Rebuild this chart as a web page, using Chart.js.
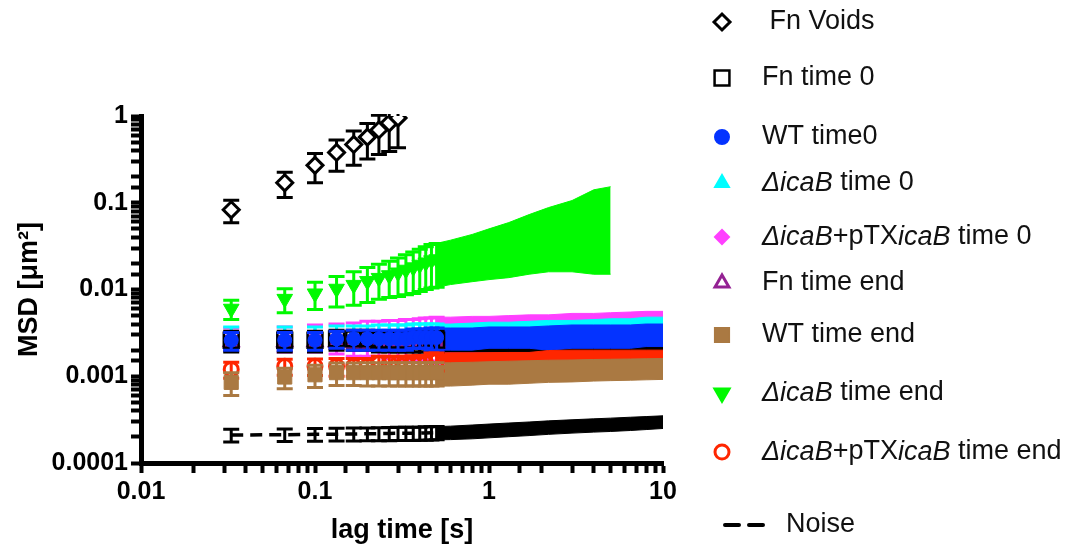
<!DOCTYPE html>
<html>
<head>
<meta charset="utf-8">
<title>MSD vs lag time</title>
<script src="https://cdn.jsdelivr.net/npm/chart.js@4.4.1/dist/chart.umd.min.js"></script>
<style>
    body { margin: 0; background: #fff; }
    canvas { display: block; }
</style>
</head>
<body>
<canvas id="msdChart" width="1077" height="550"></canvas>
<script>
var lagTimes = [0.033, 0.067, 0.1, 0.133, 0.167, 0.2, 0.233, 0.267, 0.3, 0.333, 0.367, 0.4, 0.433, 0.467, 0.5,
    0.6, 0.8, 1, 1.3, 1.7, 2.2, 3, 4, 5, 6.5, 8, 10];

// MSD [um^2] means and SDs per condition
var fnVoidsMsd = [0.083, 0.17, 0.27, 0.38, 0.47, 0.57, 0.69, 0.83, 0.95];
var fnVoidsSd = [0.024, 0.055, 0.1, 0.15, 0.2, 0.25, 0.33, 0.44, 0.52];

var fnT0Msd = [0.0026, 0.0026, 0.0026, 0.0027, 0.0027, 0.0027, 0.0026, 0.0026, 0.0026, 0.0026, 0.0026, 0.0026, 0.0026, 0.0026, 0.0026,
    0.0026, 0.0026, 0.0027, 0.0027, 0.0027, 0.0027, 0.0027, 0.0027, 0.0027, 0.0027, 0.0027, 0.0027];
var fnT0Sd = [0.0007, 0.0007, 0.0007, 0.0007, 0.0007, 0.0007, 0.0007, 0.0007, 0.0007, 0.0007, 0.0007, 0.0007, 0.0007, 0.0007, 0.0007,
    0.0007, 0.0007, 0.0008, 0.0008, 0.0008, 0.0008, 0.0008, 0.0008, 0.0008, 0.0008, 0.0008, 0.0008];

var wtT0Msd = [0.0026, 0.0026, 0.0026, 0.0027, 0.0027, 0.0027, 0.0027, 0.0027, 0.0027, 0.0027, 0.0028, 0.0028, 0.0028, 0.0028, 0.0028,
    0.0028, 0.0028, 0.0029, 0.0029, 0.0029, 0.0029, 0.003, 0.003, 0.003, 0.003, 0.0031, 0.0031];
var wtT0Sd = [0.0006, 0.0006, 0.0006, 0.0006, 0.0007, 0.0007, 0.0007, 0.0007, 0.0007, 0.0007, 0.0007, 0.0007, 0.0007, 0.0008, 0.0008,
    0.0008, 0.0008, 0.0008, 0.0008, 0.0008, 0.0009, 0.0009, 0.0009, 0.0009, 0.0009, 0.0009, 0.0009];

var icaBT0Msd = [0.0029, 0.0029, 0.0029, 0.003, 0.003, 0.003, 0.003, 0.003, 0.003, 0.003, 0.0031, 0.0031, 0.0031, 0.0031, 0.0031,
    0.0031, 0.0031, 0.0032, 0.0032, 0.0032, 0.0033, 0.0033, 0.0033, 0.0034, 0.0034, 0.0035, 0.0035];
var icaBT0Sd = [0.0008, 0.0008, 0.0008, 0.0008, 0.0008, 0.0008, 0.0009, 0.0009, 0.0009, 0.0009, 0.0009, 0.0009, 0.0009, 0.0009, 0.0009,
    0.0009, 0.001, 0.001, 0.001, 0.0011, 0.0011, 0.0011, 0.0012, 0.0012, 0.0012, 0.0013, 0.0013];

var compT0Msd = [0.0028, 0.0028, 0.0029, 0.0029, 0.0029, 0.003, 0.003, 0.003, 0.003, 0.003, 0.003, 0.0031, 0.0031, 0.0031, 0.0031,
    0.0031, 0.0032, 0.0032, 0.0032, 0.0033, 0.0033, 0.0034, 0.0034, 0.0035, 0.0035, 0.0036, 0.0036];
var compT0Sd = [0.0008, 0.0009, 0.001, 0.0011, 0.0012, 0.0013, 0.0013, 0.0014, 0.0014, 0.0015, 0.0015, 0.0015, 0.0016, 0.0016, 0.0017,
    0.0017, 0.0017, 0.0017, 0.0018, 0.0018, 0.0018, 0.0019, 0.0019, 0.0019, 0.002, 0.002, 0.002];

var fnEndMsd = [0.0025, 0.0025, 0.0025, 0.0025, 0.0025, 0.0025, 0.0025, 0.0025, 0.0025, 0.0025, 0.0025, 0.0025, 0.0025, 0.0025, 0.0025,
    0.0025, 0.0025, 0.0026, 0.0026, 0.0026, 0.0026, 0.0026, 0.0026, 0.0027, 0.0027, 0.0027, 0.0027];
var fnEndSd = [0.0004, 0.0004, 0.0004, 0.0004, 0.0004, 0.0004, 0.0004, 0.0004, 0.0004, 0.0004, 0.0004, 0.0004, 0.0004, 0.0004, 0.0004,
    0.0004, 0.0004, 0.0004, 0.0004, 0.0004, 0.0004, 0.0004, 0.0004, 0.0004, 0.0004, 0.0004, 0.0004];

var wtEndMsd = [0.00085, 0.00098, 0.00104, 0.0011, 0.0011, 0.0011, 0.0011, 0.0011, 0.0011, 0.0011, 0.0011, 0.0011, 0.0011, 0.0011, 0.0011,
    0.0011, 0.00112, 0.00114, 0.00115, 0.00117, 0.00119, 0.0012, 0.00122, 0.00123, 0.00124, 0.00125, 0.00126];
var wtEndSd = [0.00025, 0.00026, 0.0003, 0.00032, 0.00032, 0.00033, 0.00033, 0.00033, 0.00033, 0.00033, 0.00033, 0.00033, 0.00033, 0.00033, 0.00033,
    0.00033, 0.00033, 0.00033, 0.00034, 0.00034, 0.00034, 0.00034, 0.00034, 0.00034, 0.00034, 0.00034, 0.00034];

var icaBEndMsd = [0.006, 0.0078, 0.009, 0.0102, 0.0113, 0.0125, 0.0136, 0.0146, 0.0157, 0.0169, 0.018, 0.0193, 0.0205, 0.0217, 0.0223,
    0.0242, 0.0277, 0.0315, 0.0364, 0.044, 0.052, 0.061, 0.078, 0.084];
var icaBEndSd = [0.0015, 0.0024, 0.0031, 0.0039, 0.0047, 0.0054, 0.0059, 0.0065, 0.0074, 0.0082, 0.009, 0.0098, 0.0105, 0.0113, 0.0117,
    0.0128, 0.0154, 0.0185, 0.0227, 0.029, 0.036, 0.045, 0.063, 0.069];

var compEndMsd = [0.0012, 0.0013, 0.0013, 0.0013, 0.0013, 0.0013, 0.0014, 0.0014, 0.0014, 0.0014, 0.0014, 0.0014, 0.0014, 0.0015, 0.0015,
    0.0015, 0.0015, 0.0015, 0.0015, 0.0015, 0.0016, 0.0016, 0.0016, 0.0016, 0.0016, 0.0016, 0.0016];
var compEndSd = [0.00025, 0.00027, 0.00028, 0.0003, 0.0003, 0.0003, 0.0003, 0.0003, 0.0003, 0.0003, 0.00032, 0.00033, 0.00034, 0.00035, 0.00035,
    0.00036, 0.00036, 0.00037, 0.00038, 0.00038, 0.00038, 0.0004, 0.0004, 0.0004, 0.0004, 0.0004, 0.0004];

var noiseMsd = [0.00021, 0.000212, 0.000214, 0.000215, 0.000216, 0.000217, 0.000218, 0.000219, 0.00022, 0.00022, 0.00022, 0.000221, 0.000222, 0.000223, 0.000224,
    0.000226, 0.000232, 0.000238, 0.000245, 0.000252, 0.00026, 0.000268, 0.000275, 0.00028, 0.000287, 0.000293, 0.0003];
var noiseSd = [0.000035, 0.000035, 0.000036, 0.000036, 0.000037, 0.000037, 0.000037, 0.000038, 0.000038, 0.000038, 0.000038, 0.000038, 0.000039, 0.000039, 0.000039,
    0.00004, 0.000042, 0.000043, 0.000044, 0.000045, 0.000046, 0.000047, 0.000048, 0.000049, 0.00005, 0.00005, 0.00005];

var xTickValues = [0.01, 0.1, 1, 10];
var yTickValues = [0.0001, 0.001, 0.01, 0.1, 1];

// points before this index are drawn one by one, from it on they merge into a band
var bandStart = 14;

// z: stacking of markers (lower = on top), bandZ: stacking of the merged bands
var series = [
    { label: [[' Fn Voids', false]], mean: fnVoidsMsd, sd: fnVoidsSd, color: '#000000', fill: '#ffffff',
      style: 'rectRot', radius: 8, border: 3, z: 0, bandZ: 100, legendY: 22 },
    { label: [['Fn time 0', false]], mean: fnT0Msd, sd: fnT0Sd, color: '#000000', fill: 'rgba(0,0,0,0)',
      style: 'rect', radius: 10.5, border: 2.5, z: 6, bandZ: 106, legendY: 78 },
    { label: [['WT time0', false]], mean: wtT0Msd, sd: wtT0Sd, color: '#0433ff', fill: '#0433ff',
      style: 'circle', radius: 7, border: 1, z: 5, bandZ: 105, legendY: 137 },
    { label: [['\u0394icaB', true], [' time 0', false]], mean: icaBT0Msd, sd: icaBT0Sd, color: '#00fdff', fill: '#00fdff',
      style: 'triangle', radius: 8, border: 1, z: 8, bandZ: 108, legendY: 183 },
    { label: [['\u0394icaB', true], ['+pTX', false], ['icaB', true], [' time 0', false]], mean: compT0Msd, sd: compT0Sd,
      color: '#ff40ff', fill: '#ff40ff', style: 'rectRot', radius: 7, border: 1, z: 9, bandZ: 109, legendY: 237 },
    { label: [['Fn time end', false]], mean: fnEndMsd, sd: fnEndSd, color: '#942193', fill: 'rgba(0,0,0,0)',
      style: 'triangle', radius: 8, border: 3, z: 7, bandZ: 107, legendY: 283 },
    { label: [['WT time end', false]], mean: wtEndMsd, sd: wtEndSd, color: '#aa7942', fill: '#aa7942',
      style: 'rect', radius: 10, border: 1, z: 3, bandZ: 103, legendY: 335 },
    { label: [['\u0394icaB', true], [' time end', false]], mean: icaBEndMsd, sd: icaBEndSd, color: '#00f900', fill: '#00f900',
      style: 'triangle', rotation: 180, radius: 9, border: 1, z: 2, bandZ: 102, legendY: 393 },
    { label: [['\u0394icaB', true], ['+pTX', false], ['icaB', true], [' time end', false]], mean: compEndMsd, sd: compEndSd,
      color: '#ff2600', fill: 'rgba(0,0,0,0)', style: 'circle', radius: 7, border: 3, z: 4, bandZ: 104, legendY: 452 },
    { label: [['Noise', false]], mean: noiseMsd, sd: noiseSd, color: '#000000', fill: '#000000',
      style: false, radius: 0, border: 0, z: 1, bandZ: 101, legendY: 525, dashed: true }
];

var FONT = "'Liberation Sans', Arial, Helvetica, sans-serif";

function points(s, from, to) {
    var out = [];
    for (var i = from; i < to; i++) {
        out.push({ x: lagTimes[i], y: s.mean[i] });
    }
    return out;
}

var datasets = [];
series.forEach(function (s) {
    var n = s.mean.length;
    var nPts = Math.min(bandStart + 1, n);
    datasets.push({
        type: 'scatter',
        data: points(s, 0, nPts),
        errors: s.sd.slice(0, nPts),
        barColor: s.color,
        pointStyle: s.style || 'circle',
        pointRadius: s.radius,
        pointRotation: s.rotation || 0,
        pointBackgroundColor: s.fill,
        pointBorderColor: s.color,
        pointBorderWidth: s.border,
        showLine: !!s.dashed,
        borderColor: s.color,
        borderWidth: 3.5,
        borderDash: [12, 7],
        order: s.z
    });
    if (n > bandStart + 1) {
        var upper = [], lower = [];
        for (var i = bandStart; i < n; i++) {
            upper.push({ x: lagTimes[i], y: s.mean[i] + s.sd[i] });
            lower.push({ x: lagTimes[i], y: s.mean[i] - s.sd[i] });
        }
        datasets.push({
            type: 'line', data: upper, pointRadius: 0, borderWidth: 1,
            borderColor: s.color, fill: false, order: s.bandZ
        });
        datasets.push({
            type: 'line', data: lower, pointRadius: 0, borderWidth: 1,
            borderColor: s.color, backgroundColor: s.color, fill: '-1', order: s.bandZ
        });
    }
});

// vertical error bars with caps, drawn under each dataset's markers
var errorBarPlugin = {
    id: 'errorBars',
    beforeDatasetDraw: function (chart, args) {
        var ds = chart.data.datasets[args.index];
        if (!ds.errors) return;
        var ctx = chart.ctx;
        var yScale = chart.scales.y;
        var area = chart.chartArea;
        ctx.save();
        ctx.beginPath();
        ctx.rect(area.left, area.top - 2, area.right - area.left + 4, area.bottom - area.top + 2);
        ctx.clip();
        ctx.strokeStyle = ds.barColor;
        ctx.lineWidth = 3;
        args.meta.data.forEach(function (el, i) {
            var v = ds.data[i].y;
            var e = ds.errors[i];
            var yTop = yScale.getPixelForValue(v + e);
            var yBot = yScale.getPixelForValue(v - e);
            var half = 8;
            ctx.beginPath();
            ctx.moveTo(el.x, yTop);
            ctx.lineTo(el.x, yBot);
            ctx.moveTo(el.x - half, yTop);
            ctx.lineTo(el.x + half, yTop);
            ctx.moveTo(el.x - half, yBot);
            ctx.lineTo(el.x + half, yBot);
            ctx.stroke();
        });
        ctx.restore();
    }
};

function drawMarker(ctx, s, x, y) {
    var r = s.radius;
    var rad = (s.rotation || 0) * Math.PI / 180;
    ctx.beginPath();
    if (s.style === 'circle') {
        ctx.arc(x, y, r, 0, Math.PI * 2);
    } else if (s.style === 'rect') {
        var h = Math.SQRT1_2 * r;
        ctx.rect(x - h, y - h, 2 * h, 2 * h);
    } else if (s.style === 'rectRot') {
        ctx.moveTo(x - r, y);
        ctx.lineTo(x, y - r);
        ctx.lineTo(x + r, y);
        ctx.lineTo(x, y + r);
        ctx.closePath();
    } else if (s.style === 'triangle') {
        for (var k = 0; k < 3; k++) {
            var a = rad + k * 2 * Math.PI / 3;
            if (k === 0) ctx.moveTo(x + Math.sin(a) * r, y - Math.cos(a) * r);
            else ctx.lineTo(x + Math.sin(a) * r, y - Math.cos(a) * r);
        }
        ctx.closePath();
    }
    ctx.fillStyle = s.fill;
    ctx.fill();
    ctx.lineWidth = Math.max(s.border, 2);
    ctx.strokeStyle = s.color;
    ctx.stroke();
}

// legend with mixed italic / upright text
var sideLegendPlugin = {
    id: 'sideLegend',
    afterDraw: function (chart) {
        var ctx = chart.ctx;
        ctx.save();
        series.forEach(function (s) {
            var y = s.legendY;
            var tx = 762;
            if (s.dashed) {
                ctx.strokeStyle = '#000';
                ctx.lineWidth = 4;
                ctx.lineCap = 'round';
                ctx.beginPath();
                ctx.moveTo(725, y); ctx.lineTo(739, y);
                ctx.moveTo(749, y); ctx.lineTo(763, y);
                ctx.stroke();
                tx = 786;
            } else {
                drawMarker(ctx, s, 722, y);
            }
            ctx.fillStyle = '#111';
            ctx.textBaseline = 'middle';
            ctx.textAlign = 'left';
            s.label.forEach(function (part) {
                ctx.font = (part[1] ? 'italic ' : '') + '27px ' + FONT;
                ctx.fillText(part[0], tx, y);
                tx += ctx.measureText(part[0]).width;
            });
        });
        ctx.restore();
    }
};

function isDecade(v) {
    var l = Math.log10(v);
    return Math.abs(l - Math.round(l)) < 1e-6;
}

function decadeLabel(list) {
    return function (value) {
        if (!isDecade(value)) return '';
        for (var i = 0; i < list.length; i++) {
            if (Math.abs(list[i] - value) / list[i] < 1e-6) return String(list[i]);
        }
        return '';
    };
}

var axisFont = { family: FONT, size: 25, weight: 'bold' };
var titleFont = { family: FONT, size: 27, weight: 'bold' };

new Chart(document.getElementById('msdChart').getContext('2d'), {
    type: 'scatter',
    data: { datasets: datasets },
    options: {
        responsive: false,
        devicePixelRatio: 1,
        animation: false,
        events: [],
        layout: { padding: { left: 10, top: 116, right: 414, bottom: 0 } },
        plugins: {
            legend: { display: false },
            tooltip: { enabled: false }
        },
        scales: {
            x: {
                type: 'logarithmic',
                min: 0.01,
                max: 10,
                position: 'bottom',
                border: { display: true, width: 5, color: '#000' },
                grid: { drawOnChartArea: false, drawTicks: true, tickLength: 10, tickWidth: 4, tickColor: '#000' },
                ticks: {
                    autoSkip: false, maxRotation: 0, color: '#000', font: axisFont, padding: 4,
                    callback: decadeLabel(xTickValues)
                },
                title: { display: true, text: 'lag time [s]', color: '#000', font: titleFont, padding: { top: 0, bottom: 3 } },
                afterFit: function (scale) { scale.height = 87; }
            },
            y: {
                type: 'logarithmic',
                min: 0.0001,
                max: 1,
                border: { display: true, width: 5, color: '#000' },
                grid: { drawOnChartArea: false, drawTicks: true, tickLength: 10, tickWidth: 4, tickColor: '#000' },
                ticks: {
                    autoSkip: false, color: '#000', font: axisFont, padding: 3,
                    callback: decadeLabel(yTickValues)
                },
                title: { display: true, text: 'MSD [\u03bcm\u00b2]', color: '#000', font: titleFont, padding: { top: 3, bottom: 0 } },
                afterFit: function (scale) { scale.width = 131; }
            }
        }
    },
    plugins: [errorBarPlugin, sideLegendPlugin]
});
</script>
</body>
</html>
